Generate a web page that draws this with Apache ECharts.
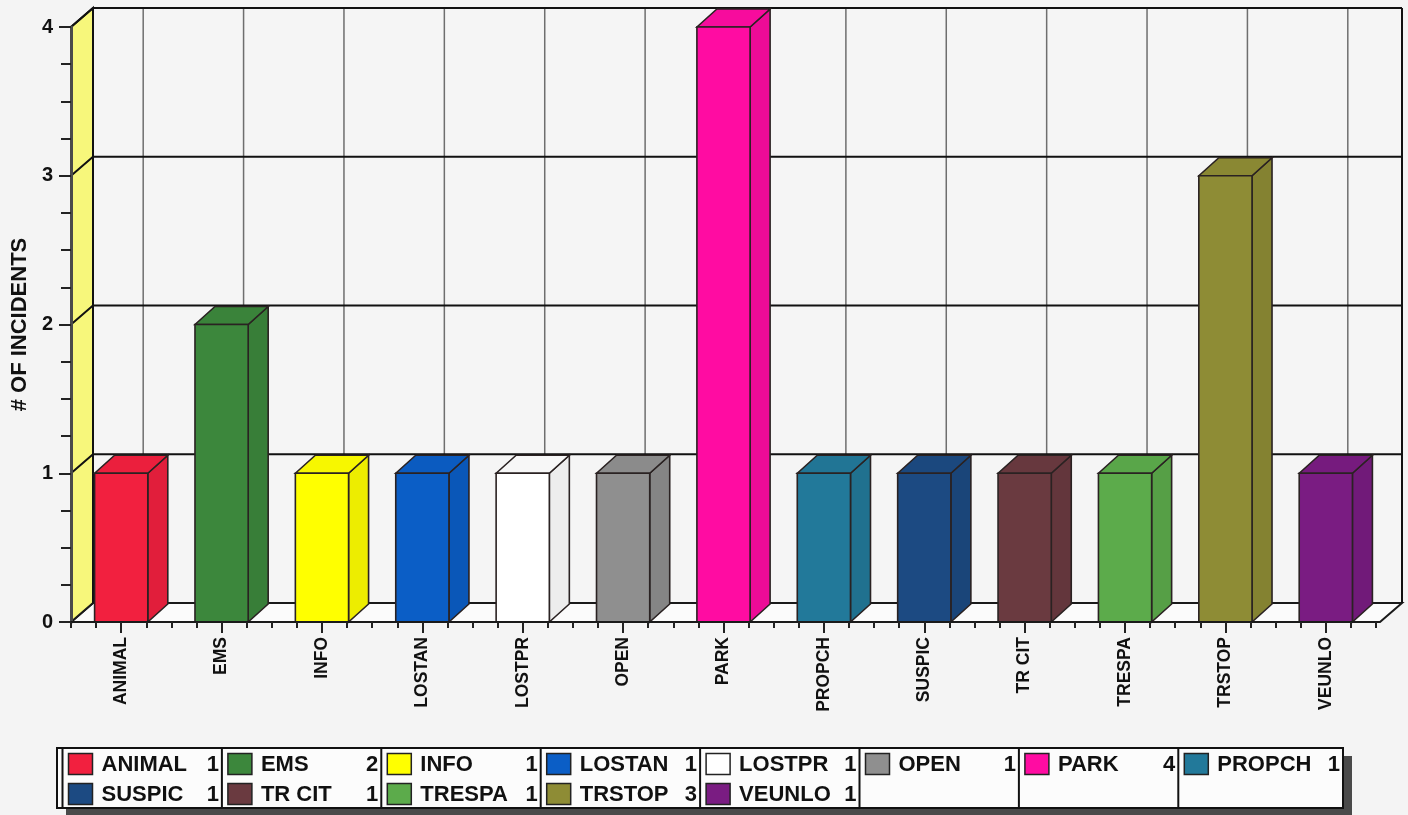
<!DOCTYPE html>
<html>
<head>
<meta charset="utf-8">
<style>
  html, body { margin: 0; padding: 0; background: #f4f4f4; }
  #chart { width: 1408px; height: 815px; }
</style>
<script src="https://cdn.jsdelivr.net/npm/echarts@6/dist/echarts.min.js"></script>
</head>
<body>
<div id="chart"></div>
<script>
// Incident counts per call type
const categories = ['ANIMAL', 'EMS', 'INFO', 'LOSTAN', 'LOSTPR', 'OPEN', 'PARK', 'PROPCH', 'SUSPIC', 'TR CIT', 'TRESPA', 'TRSTOP', 'VEUNLO'];
const incidents = [1, 2, 1, 1, 1, 1, 4, 1, 1, 1, 1, 3, 1];
const barColors = ['#f2203f', '#3c873c', '#ffff00', '#0b5ec6', '#ffffff', '#8f8f8f', '#ff0ca2', '#22799a', '#1c4a82', '#6a3a40', '#5cab4b', '#8e8c35', '#7a1c82'];
const yTicks = [0, 1, 2, 3, 4];
const yTitle = '# OF INCIDENTS';

// depth of the box (back wall offset) and of each bar
const WALL_D = [22, -19];
const BAR_D = [20, -18];
const FLOOR_EXTRA = 4; // floor runs a little past the last category
const FONT = '"Liberation Sans", Arial, sans-serif';

function shade(hex, k) {
  const n = parseInt(hex.slice(1), 16);
  const r = Math.round(((n >> 16) & 255) * k);
  const g = Math.round(((n >> 8) & 255) * k);
  const b = Math.round((n & 255) * k);
  const c = v => Math.max(0, Math.min(255, v)).toString(16).padStart(2, '0');
  return '#' + c(r) + c(g) + c(b);
}

// back wall, left wall, floor and grid lines
function renderWalls(params, api) {
  const cs = params.coordSys;
  const x0 = cs.x, x1 = cs.x + cs.width + FLOOR_EXTRA, yt = cs.y, yb = cs.y + cs.height;
  const dx = WALL_D[0], dy = WALL_D[1];
  const kids = [];
  kids.push({ type: 'rect', shape: { x: x0 + dx, y: yt + dy, width: x1 - x0, height: yb - yt }, style: { fill: '#f5f5f5' } });
  kids.push({ type: 'polygon', shape: { points: [[x0, yb], [x1, yb], [x1 + dx, yb + dy], [x0 + dx, yb + dy]] },
              style: { fill: '#fbfbfb', stroke: '#1a1a1a', lineWidth: 2 } });
  kids.push({ type: 'polygon', shape: { points: [[x0, yb], [x0, yt], [x0 + dx, yt + dy], [x0 + dx, yb + dy]] },
              style: { fill: '#f7f77b', stroke: '#1a1a1a', lineWidth: 2 } });
  categories.forEach((c, i) => {
    const x = api.coord([i, 0])[0] + dx;
    kids.push({ type: 'line', shape: { x1: x, y1: yt + dy, x2: x, y2: yb + dy }, style: { stroke: '#6e6e6e', lineWidth: 1.5 } });
  });
  yTicks.forEach(v => {
    if (v === 0) return;
    const y = api.coord([0, v])[1];
    kids.push({ type: 'polyline', shape: { points: [[x0, y], [x0 + dx, y + dy], [x1 + dx, y + dy]] },
                style: { stroke: '#111', lineWidth: 2, fill: null } });
  });
  kids.push({ type: 'line', shape: { x1: x1 + dx, y1: yt + dy, x2: x1 + dx, y2: yb + dy }, style: { stroke: '#111', lineWidth: 2 } });
  kids.push({ type: 'line', shape: { x1: x0 + dx, y1: yt + dy, x2: x0 + dx, y2: yb + dy }, style: { stroke: '#111', lineWidth: 2 } });
  return { type: 'group', children: kids };
}

// one extruded bar per category
function renderBar(params, api) {
  const i = api.value(0);
  const top = api.coord([i, api.value(1)]);
  const base = api.coord([i, 0]);
  const w = api.size([1, 0])[0] * 0.53;
  const xl = top[0] - w / 2, xr = top[0] + w / 2;
  const yt = top[1], yb = base[1];
  const dx = BAR_D[0], dy = BAR_D[1];
  const col = barColors[params.dataIndex];
  const edge = '#2a2222';
  return {
    type: 'group',
    children: [
      { type: 'polygon', shape: { points: [[xr, yb], [xr, yt], [xr + dx, yt + dy], [xr + dx, yb + dy]] },
        style: { fill: shade(col, 0.93), stroke: edge, lineWidth: 1.6 } },
      { type: 'polygon', shape: { points: [[xl, yt], [xl + dx, yt + dy], [xr + dx, yt + dy], [xr, yt]] },
        style: { fill: shade(col, 0.97), stroke: edge, lineWidth: 1.6 } },
      { type: 'rect', shape: { x: xl, y: yt, width: w, height: yb - yt },
        style: { fill: col, stroke: edge, lineWidth: 1.6 } }
    ]
  };
}

// legend table below the plot
function buildLegend() {
  const left = 57, top = 748, right = 1343, bottom = 808;
  const colX = [62.5, 221.9, 381.3, 540.7, 700.1, 859.5, 1018.9, 1178.3, right];
  const perRow = 8;
  const rowY = [764, 794];
  const kids = [];
  kids.push({ type: 'rect', shape: { x: left + 9, y: top + 8, width: right - left, height: bottom - top }, style: { fill: '#4a4a4a' } });
  kids.push({ type: 'rect', shape: { x: left, y: top, width: right - left, height: bottom - top }, style: { fill: '#fcfcfc', stroke: '#111', lineWidth: 2 } });
  for (let c = 0; c < perRow; c++) {
    kids.push({ type: 'line', shape: { x1: colX[c], y1: top, x2: colX[c], y2: bottom }, style: { stroke: '#111', lineWidth: 2 } });
  }
  categories.forEach((name, i) => {
    const c = i % perRow, r = Math.floor(i / perRow);
    const x = colX[c], y = rowY[r];
    kids.push({ type: 'rect', shape: { x: x + 6, y: y - 10.5, width: 24, height: 21 },
                style: { fill: barColors[i], stroke: '#222', lineWidth: 1.5 } });
    kids.push({ type: 'text', x: x + 39, y: y + 1,
                style: { text: name, font: 'bold 22px ' + FONT, fill: '#111', verticalAlign: 'middle', align: 'left' } });
    kids.push({ type: 'text', x: colX[c + 1] - 3, y: y + 1,
                style: { text: String(incidents[i]), font: 'bold 22px ' + FONT, fill: '#111', verticalAlign: 'middle', align: 'right' } });
  });
  return kids;
}

const chart = echarts.init(document.getElementById('chart'), null, { renderer: 'canvas' });
chart.setOption({
  backgroundColor: '#f4f4f4',
  animation: false,
  grid: { left: 71, right: 32, top: 27, bottom: 193, outerBoundsMode: 'none', containLabel: false },
  xAxis: [
    {
      type: 'category', data: categories, z: 5,
      axisLine: { show: true, lineStyle: { color: '#1a1a1a', width: 2 } },
      axisTick: { show: true, alignWithLabel: true, length: 11, lineStyle: { color: '#222', width: 2 } },
      axisLabel: { interval: 0, rotate: 90, margin: 15, color: '#111', fontSize: 17.5, fontWeight: 'bold', fontFamily: FONT },
      splitLine: { show: false }
    },
    {
      type: 'value', min: 0, max: categories.length, interval: 0.25, position: 'bottom', z: 5,
      axisLine: { show: false },
      axisTick: { show: true, length: 6, lineStyle: { color: '#222', width: 2 } },
      axisLabel: { show: false },
      splitLine: { show: false }
    }
  ],
  yAxis: {
    type: 'value', min: yTicks[0], max: yTicks[yTicks.length - 1], interval: 1, z: 5,
    name: yTitle, nameLocation: 'middle', nameRotate: 90, nameGap: 37,
    nameTextStyle: { color: '#111', fontSize: 22, fontWeight: 'bold', fontFamily: FONT },
    axisLine: { show: true, lineStyle: { color: '#4a4a4a', width: 3 } },
    axisTick: { show: true, length: 12, lineStyle: { color: '#222', width: 2 } },
    minorTick: { show: true, splitNumber: 4, length: 10, lineStyle: { color: '#222', width: 2 } },
    axisLabel: { margin: 18, color: '#111', fontSize: 20, fontWeight: 'bold', fontFamily: FONT },
    splitLine: { show: false }, minorSplitLine: { show: false }
  },
  series: [
    { type: 'custom', silent: true, clip: false, xAxisIndex: 0, yAxisIndex: 0, z: 1,
      data: [[0, 0]], renderItem: renderWalls },
    { type: 'custom', silent: true, clip: false, xAxisIndex: 0, yAxisIndex: 0, z: 3,
      data: incidents.map((v, i) => [i, v]), renderItem: renderBar }
  ],
  graphic: { elements: buildLegend() }
});
</script>
</body>
</html>
